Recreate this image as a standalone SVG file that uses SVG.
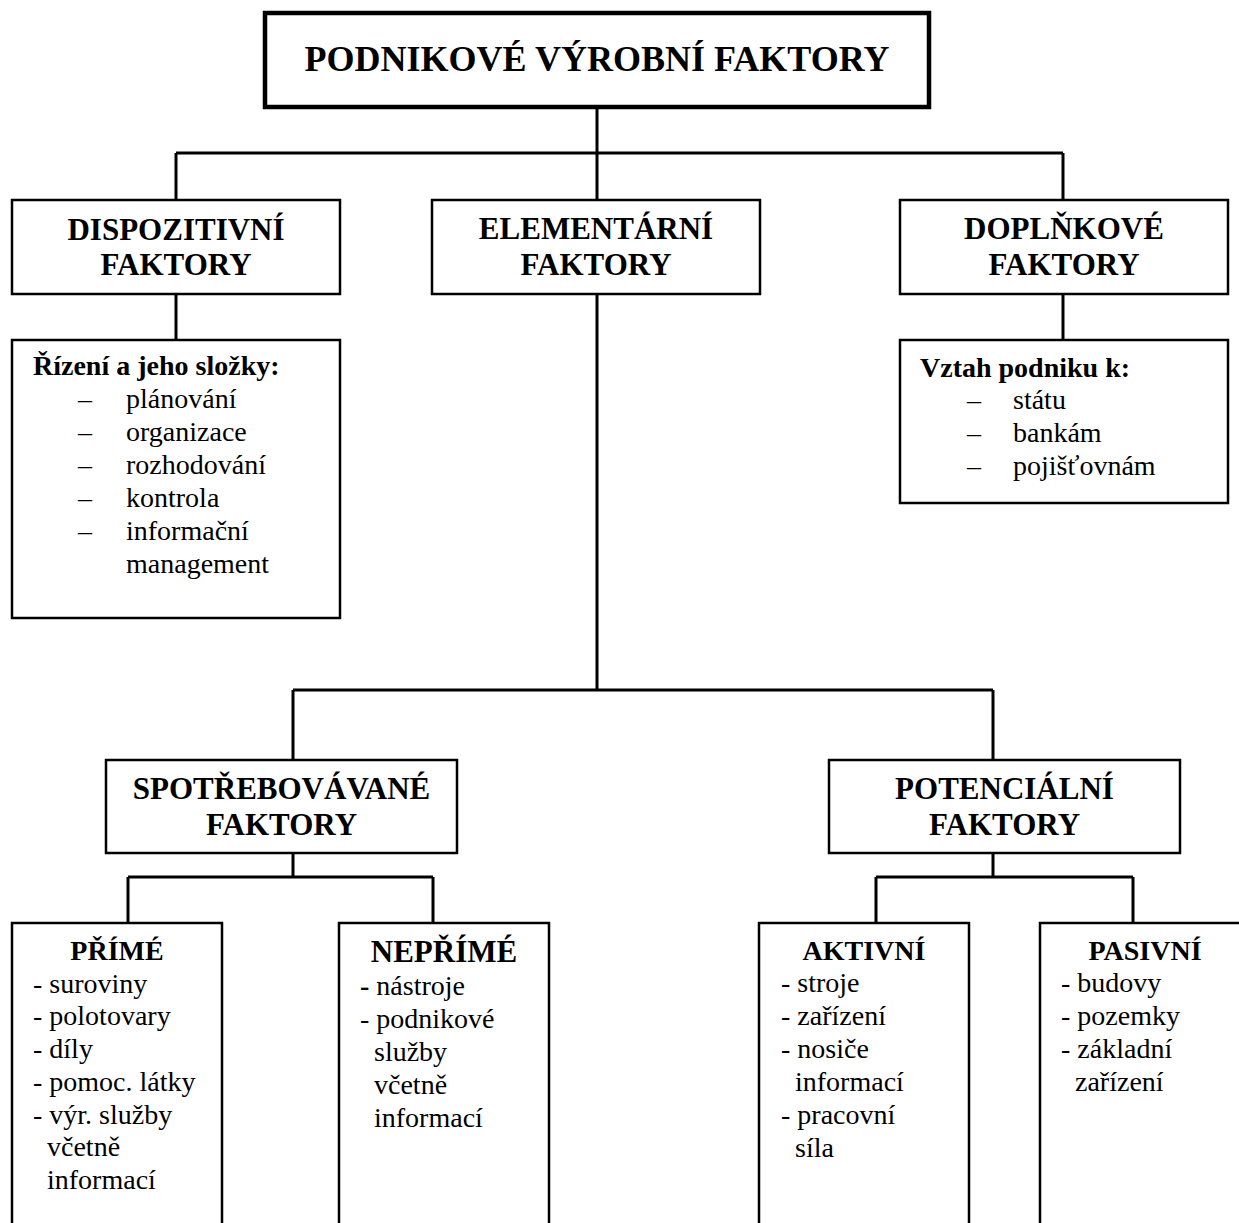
<svg xmlns="http://www.w3.org/2000/svg" width="1239" height="1223" viewBox="0 0 1239 1223">
  <style>
    text { font-family: "Liberation Serif", "Times New Roman", serif; fill: #000; }
    .title { font-size: 36px; font-weight: bold; text-anchor: middle; }
    .head { font-size: 31px; font-weight: bold; text-anchor: middle; }
    .sub { font-size: 28px; font-weight: bold; text-anchor: middle; }
    .lead { font-size: 28px; font-weight: bold; }
    .item { font-size: 28px; }
    .box { fill: #fff; stroke: #000; stroke-width: 2.5; }
    .box-main { fill: #fff; stroke: #000; stroke-width: 4.5; }
    .link { fill: none; stroke: #000; stroke-width: 3; }
  </style>
  <rect width="1239" height="1223" fill="#fff"/>

  <!-- connectors -->
  <g id="connectors">
    <path class="link" d="M597,107 V153 M176,153 H1063 M176,153 V200 M597,153 V200 M1063,153 V200"/>
    <path class="link" d="M176,294 V340"/>
    <path class="link" d="M1063,294 V340"/>
    <path class="link" d="M597,294 V690 M293,690 H993 M293,690 V760 M993,690 V760"/>
    <path class="link" d="M293,853 V877 M128,877 H433 M128,877 V923 M433,877 V923"/>
    <path class="link" d="M993,853 V877 M876,877 H1133 M876,877 V923 M1133,877 V923"/>
  </g>

  <!-- root -->
  <g id="node-podnikove">
    <rect class="box-main" x="265" y="13" width="664" height="94"/>
    <text class="title" x="597" y="71">PODNIKOVÉ VÝROBNÍ FAKTORY</text>
  </g>

  <!-- second level -->
  <g id="node-dispozitivni">
    <rect class="box" x="12" y="200" width="328" height="94"/>
    <text class="head" x="176" y="240">DISPOZITIVNÍ</text>
    <text class="head" x="176" y="275">FAKTORY</text>
  </g>
  <g id="node-elementarni">
    <rect class="box" x="432" y="200" width="328" height="94"/>
    <text class="head" x="596" y="239">ELEMENTÁRNÍ</text>
    <text class="head" x="596" y="275">FAKTORY</text>
  </g>
  <g id="node-doplnkove">
    <rect class="box" x="900" y="200" width="328" height="94"/>
    <text class="head" x="1064" y="239">DOPLŇKOVÉ</text>
    <text class="head" x="1064" y="275">FAKTORY</text>
  </g>

  <!-- detail boxes -->
  <g id="node-rizeni">
    <rect class="box" x="12" y="340" width="328" height="278"/>
    <text class="lead" x="33" y="375">Řízení a jeho složky:</text>
    <g class="item">
      <text class="item" x="78" y="408">–</text><text class="item" x="126" y="408">plánování</text>
      <text class="item" x="78" y="441">–</text><text class="item" x="126" y="441">organizace</text>
      <text class="item" x="78" y="474">–</text><text class="item" x="126" y="474">rozhodování</text>
      <text class="item" x="78" y="507">–</text><text class="item" x="126" y="507">kontrola</text>
      <text class="item" x="78" y="540">–</text><text class="item" x="126" y="540">informační</text>
      <text class="item" x="126" y="573">management</text>
    </g>
  </g>
  <g id="node-vztah">
    <rect class="box" x="900" y="340" width="328" height="163"/>
    <text class="lead" x="920" y="377">Vztah podniku k:</text>
    <text class="item" x="967" y="409">–</text><text class="item" x="1013" y="409">státu</text>
    <text class="item" x="967" y="442">–</text><text class="item" x="1013" y="442">bankám</text>
    <text class="item" x="967" y="475">–</text><text class="item" x="1013" y="475">pojišťovnám</text>
  </g>

  <!-- third level -->
  <g id="node-spotrebovavane">
    <rect class="box" x="106" y="760" width="351" height="93"/>
    <text class="head" x="281.5" y="799">SPOTŘEBOVÁVANÉ</text>
    <text class="head" x="281.5" y="835">FAKTORY</text>
  </g>
  <g id="node-potencialni">
    <rect class="box" x="829" y="760" width="351" height="93"/>
    <text class="head" x="1004.5" y="799">POTENCIÁLNÍ</text>
    <text class="head" x="1004.5" y="835">FAKTORY</text>
  </g>

  <!-- leaves -->
  <g id="node-prime">
    <rect class="box" x="12" y="923" width="210" height="330"/>
    <text class="sub" x="117" y="960">PŘÍMÉ</text>
    <text class="item" x="33" y="993">- suroviny</text>
    <text class="item" x="33" y="1025">- polotovary</text>
    <text class="item" x="33" y="1058">- díly</text>
    <text class="item" x="33" y="1091">- pomoc. látky</text>
    <text class="item" x="33" y="1124">- výr. služby</text>
    <text class="item" x="47" y="1156">včetně</text>
    <text class="item" x="47" y="1189">informací</text>
  </g>
  <g id="node-neprime">
    <rect class="box" x="339" y="923" width="210" height="330"/>
    <text class="head" x="444" y="962">NEPŘÍMÉ</text>
    <text class="item" x="360" y="995"><tspan font-weight="bold">-</tspan> nástroje</text>
    <text class="item" x="360" y="1028">- podnikové</text>
    <text class="item" x="374" y="1061">služby</text>
    <text class="item" x="374" y="1094">včetně</text>
    <text class="item" x="374" y="1127">informací</text>
  </g>
  <g id="node-aktivni">
    <rect class="box" x="759" y="923" width="210" height="330"/>
    <text class="sub" x="864" y="960">AKTIVNÍ</text>
    <text class="item" x="781" y="992">- stroje</text>
    <text class="item" x="781" y="1025">- zařízení</text>
    <text class="item" x="781" y="1058">- nosiče</text>
    <text class="item" x="795" y="1091">informací</text>
    <text class="item" x="781" y="1124">- pracovní</text>
    <text class="item" x="795" y="1157">síla</text>
  </g>
  <g id="node-pasivni">
    <rect class="box" x="1040" y="923" width="210" height="330"/>
    <text class="sub" x="1145" y="960">PASIVNÍ</text>
    <text class="item" x="1061" y="992">- budovy</text>
    <text class="item" x="1061" y="1025">- pozemky</text>
    <text class="item" x="1061" y="1058">- základní</text>
    <text class="item" x="1075" y="1091">zařízení</text>
  </g>
</svg>
